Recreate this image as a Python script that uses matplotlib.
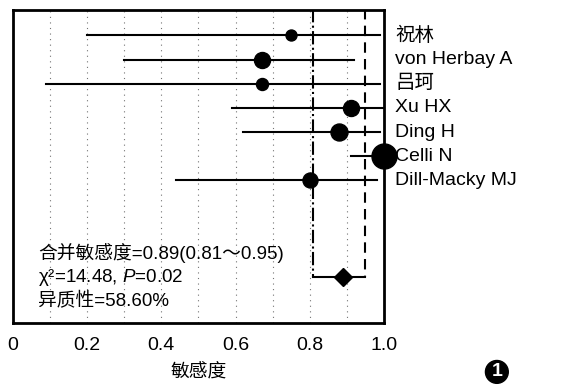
import numpy as np
import matplotlib
matplotlib.use("Agg")
import matplotlib.pyplot as plt

plt.rcParams['font.family'] = ['Liberation Sans', 'Noto Sans CJK SC', 'DejaVu Sans']
plt.rcParams['mathtext.fontset'] = 'custom'
plt.rcParams['mathtext.it'] = 'Liberation Sans:italic'
plt.rcParams['mathtext.rm'] = 'Liberation Sans'

studies = ["祝林", "von Herbay A", "吕珂", "Xu HX", "Ding H", "Celli N", "Dill-Macky MJ"]
sens = [0.75, 0.67, 0.67, 0.91, 0.88, 1.00, 0.80]
ci_low = [0.20, 0.30, 0.09, 0.59, 0.62, 0.91, 0.44]
ci_high = [0.99, 0.92, 0.99, 1.00, 0.99, 1.00, 0.98]
weights = [11, 16, 12, 16, 17, 25, 15]   # relative study weight (marker diameter)

pooled = 0.89
pooled_low = 0.81
pooled_high = 0.95

xticks = [0, 0.2, 0.4, 0.6, 0.8, 1.0]
xtick_labels = ["0", "0.2", "0.4", "0.6", "0.8", "1.0"]

fig = plt.figure(figsize=(5.88, 3.85), dpi=100)
ax = fig.add_axes([0.022, 0.161, 0.631, 0.813])

rows = np.arange(len(studies))
pooled_row = 10

# dotted grid every 0.1
for g in np.arange(0.1, 1.0, 0.1):
    ax.axvline(g, color='0.45', lw=0.8, ls=(0, (1, 4)), zorder=0)

# pooled CI lines and bracket
ax.plot([pooled_low, pooled_low], [-1.1, pooled_row], color='black', lw=1.5, ls='-.')
ax.plot([pooled_high, pooled_high], [-1.1, pooled_row], color='black', lw=1.5, ls=(0, (5, 3)))
ax.plot([pooled_low, pooled_high], [pooled_row, pooled_row], color='black', lw=1.5)
ax.plot([pooled], [pooled_row], marker='D', color='black', ms=9, ls='none')

for i, r in enumerate(rows):
    ax.plot([ci_low[i], ci_high[i]], [r, r], color='black', lw=1.5, zorder=2)
    ax.plot([sens[i]], [r], marker='o', color='black', ms=weights[i] * 0.72, ls='none',
            zorder=3, clip_on=False)
    ax.text(1.03, r, studies[i], fontsize=14, va='center', ha='left',
            transform=ax.get_yaxis_transform())

ax.set_xlim(0, 1.0)
ax.set_ylim(11.9, -1.05)
ax.set_xticks(xticks)
ax.set_xticklabels(xtick_labels, fontsize=14)
ax.tick_params(axis='x', length=0, pad=10)
ax.set_yticks([])
for s in ax.spines.values():
    s.set_linewidth(2)

ax.set_xlabel("敏感度", fontsize=13.5, labelpad=7)

ax.text(0.067, 9.0, "合并敏感度=0.89(0.81～0.95)", fontsize=13.5, va='center')
ax.text(0.067, 10.0, "χ²=14.48, $P$=0.02", fontsize=13.5, va='center')
ax.text(0.067, 11.0, "异质性=58.60%", fontsize=13.5, va='center')

fig.text(0.845, 0.034, "1", fontsize=14, color='white', weight='bold', ha='center', va='center',
         bbox=dict(boxstyle='circle,pad=0.15', fc='black', ec='black'))

fig.savefig("out.png", dpi=100)
